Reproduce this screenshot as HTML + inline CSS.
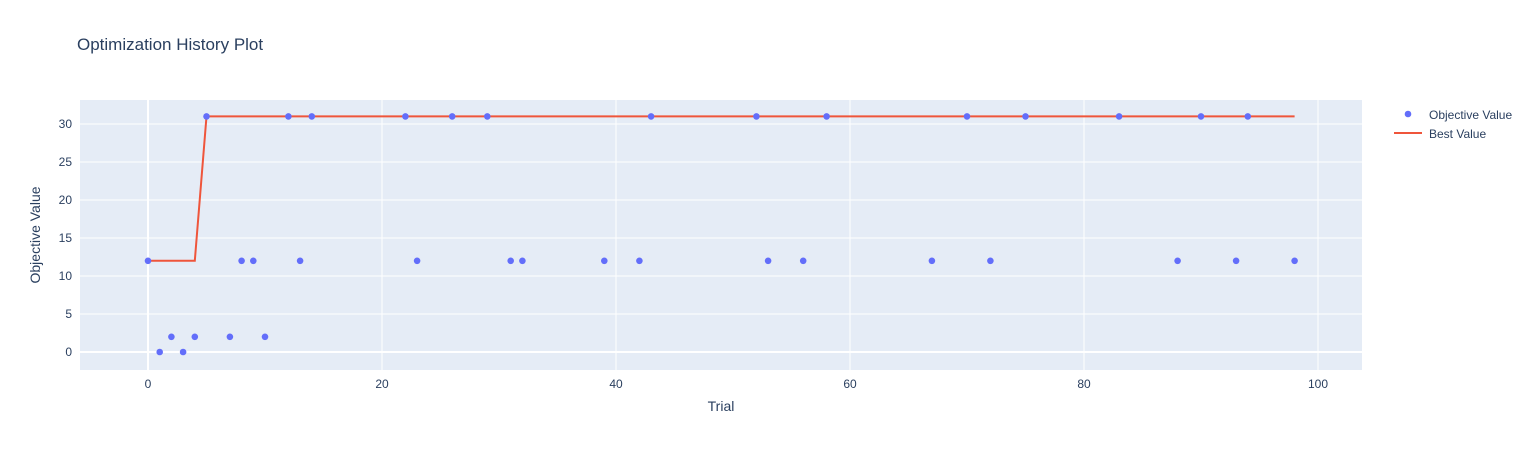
<!DOCTYPE html>
<html><head><meta charset="utf-8"><style>
body{margin:0;background:#fff;font-family:"Liberation Sans",sans-serif;}
svg text{font-family:"Liberation Sans",sans-serif;fill:#2a3f5f;}
</style></head><body>
<svg id="chart" width="1540" height="450">
<text x="77" y="50" font-size="17">Optimization History Plot</text>
<rect x="80" y="100" width="1282" height="270" fill="#e5ecf6"/>
<g id="grid"></g><g id="marks"></g>
<text x="721" y="411" font-size="14" text-anchor="middle">Trial</text>
<text transform="translate(40,235) rotate(-90)" font-size="14" text-anchor="middle">Objective Value</text>
<g>
<circle cx="1408" cy="114" r="3.3" fill="#636efa"/>
<text x="1429" y="119" font-size="12">Objective Value</text>
<line x1="1394" y1="133" x2="1422" y2="133" stroke="#ef553b" stroke-width="2"/>
<text x="1429" y="138" font-size="12">Best Value</text>
</g>
</svg>
<script>
const trials=[0,1,2,3,4,5,7,8,9,10,12,13,14,22,23,26,29,31,32,39,42,43,52,53,56,58,67,70,72,75,83,88,90,93,94,98];
const values=[12,0,2,0,2,31,2,12,12,2,31,12,31,31,12,31,31,12,12,12,12,31,31,12,12,31,12,31,12,31,31,12,31,12,31,12];
const xTicks=[0,20,40,60,80,100];
const yTicks=[0,5,10,15,20,25,30];
const NS="http://www.w3.org/2000/svg";
const X=v=>148+v*11.7, Y=v=>352-v*7.6;
const grid=document.getElementById('grid'), marks=document.getElementById('marks');
function mk(tag,attrs,parent){const e=document.createElementNS(NS,tag);for(const k in attrs)e.setAttribute(k,attrs[k]);parent.appendChild(e);return e;}
xTicks.forEach(t=>{
 const l=mk('line',{x1:X(t),x2:X(t),y1:100,y2:370,stroke:'#fff','stroke-width':t===0?2:1},grid);
 
 
 const tx=mk('text',{x:X(t),y:388,'font-size':12,'text-anchor':'middle'},grid);tx.textContent=t;
 
 
});
yTicks.forEach(t=>{
 const l=mk('line',{x1:80,x2:1362,y1:Y(t),y2:Y(t),stroke:'#fff','stroke-width':t===0?2:1},grid);
 
 
 const tx=mk('text',{x:72,y:Y(t)+4,'font-size':12,'text-anchor':'end'},grid);tx.textContent=t;
 
 
});
let best=-Infinity,pts=[];
trials.forEach((t,i)=>{best=Math.max(best,values[i]);pts.push(X(t)+','+Y(best));});
const pl=mk('polyline',{points:pts.join(' '),fill:'none',stroke:'#ef553b','stroke-width':2},marks);


trials.forEach((t,i)=>{
 const c=mk('circle',{cx:X(t),cy:Y(values[i]),r:3.3,fill:'#636efa'},marks);
 
 
});
</script>
</body></html>
